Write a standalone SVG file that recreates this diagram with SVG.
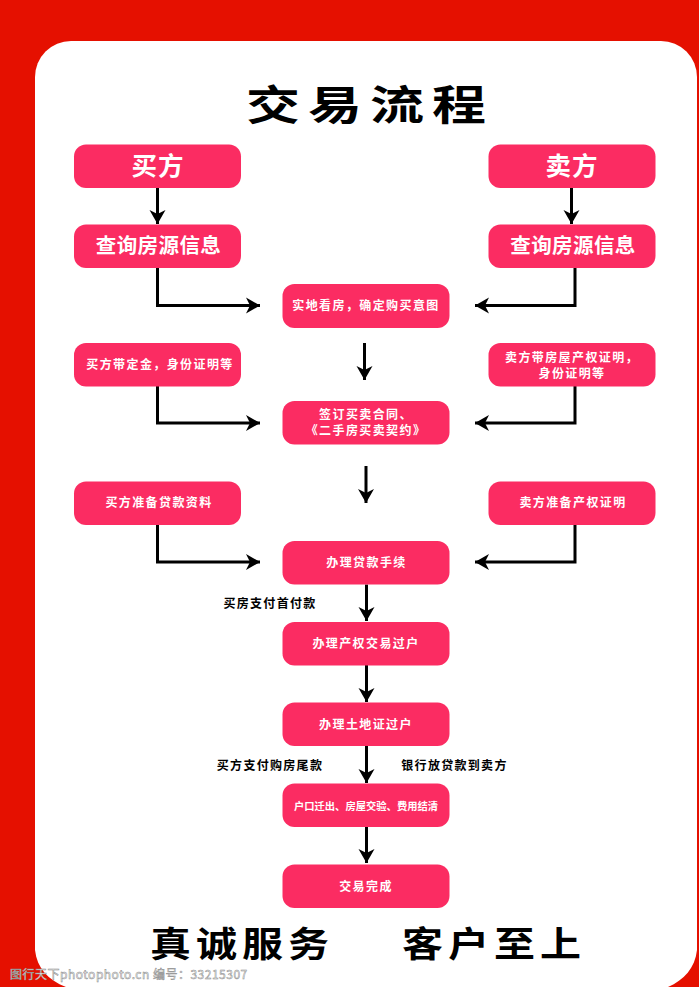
<svg xmlns="http://www.w3.org/2000/svg" width="699" height="987" viewBox="0 0 699 987">
<style>
text{font-family:"Noto Sans CJK SC","Noto Sans",sans-serif;font-weight:700;text-anchor:middle}
.n{fill:#fb2c62}
.w{fill:#fff}
.l{font-size:20.500px;letter-spacing:.4px}
.h{font-size:25.500px;letter-spacing:1px}
.s{font-size:12px;letter-spacing:1.4px}
.k{fill:#000;font-size:12px;letter-spacing:1.3px}
.t{fill:#000;font-size:41px;letter-spacing:5px}
.c{fill:none;stroke:#000;stroke-width:3;marker-end:url(#a)}
</style>
<defs>
<marker id="a" markerUnits="userSpaceOnUse" markerWidth="16" markerHeight="18" refX="14" refY="9" orient="auto">
<path d="M0 1L14 9L0 17L4 9Z" fill="#000"/>
</marker>
</defs>
<rect width="699" height="987" fill="#e51000"/>
<rect x="35" y="41" width="662" height="970" rx="36" fill="#fff"/>
<path d="M35 950C37 968 48 980 66 987H35Z" fill="#e51000"/>
<path d="M697 950C695 968 684 980 668 987H699V950Z" fill="#e51000"/>
<g id="title"><text transform="translate(370 120) scale(1 .76)" style="font-size:54px;letter-spacing:8px">交易流程</text></g>
<g id="connectors">
<path class="c" d="M157.5 188V224"/>
<path class="c" d="M571.5 188V224"/>
<path class="c" d="M157.5 268V305.500H260"/>
<path class="c" d="M575 268V305.500H475"/>
<path class="c" d="M364.500 343V380"/>
<path class="c" d="M157.500 386V423H260"/>
<path class="c" d="M575 386V423H475"/>
<path class="c" d="M366 466V503"/>
<path class="c" d="M157.500 525V562H260"/>
<path class="c" d="M575 525V562H475"/>
<path class="c" d="M366.500 584.500V621"/>
<path class="c" d="M366.500 665V702"/>
<path class="c" d="M366.500 746V783"/>
<path class="c" d="M366.500 827V863"/>
</g>
<g id="buyer"><rect class="n" x="74" y="144.500" width="167" height="43.500" rx="12"/><text class="w h" x="158" y="175">买方</text></g>
<g id="seller"><rect class="n" x="488.500" y="144.500" width="167" height="43.500" rx="12"/><text class="w h" x="572" y="175">卖方</text></g>
<g id="buyer-query"><rect class="n" x="74" y="224.500" width="167" height="43.500" rx="12"/><text class="w l" x="158.500" y="253">查询房源信息</text></g>
<g id="seller-query"><rect class="n" x="488.500" y="224.500" width="167" height="43.500" rx="12"/><text class="w l" x="573" y="253">查询房源信息</text></g>
<g id="viewing"><rect class="n" x="282.500" y="284" width="167" height="44" rx="12"/><text class="w s" x="366" y="310">实地看房，确定购买意图</text></g>
<g id="buyer-deposit"><rect class="n" x="74" y="343" width="167" height="43.500" rx="12"/><text class="w s" x="160" y="369">买方带定金，身份证明等</text></g>
<g id="seller-docs"><rect class="n" x="488.500" y="343" width="167" height="43.500" rx="12"/><text class="w s" x="572" y="362">卖方带房屋产权证明，</text><text class="w s" x="572" y="378">身份证明等</text></g>
<g id="contract"><rect class="n" x="282.500" y="401" width="167" height="43.500" rx="12"/><text class="w s" x="366" y="419">签订买卖合同、</text><text class="w s" x="366" y="435">《二手房买卖契约》</text></g>
<g id="buyer-loan"><rect class="n" x="74" y="481.500" width="167" height="43.500" rx="12"/><text class="w s" x="159" y="507">买方准备贷款资料</text></g>
<g id="seller-title"><rect class="n" x="488.500" y="481.500" width="167" height="43.500" rx="12"/><text class="w s" x="573" y="507">卖方准备产权证明</text></g>
<g id="loan"><rect class="n" x="282.500" y="541" width="167" height="43.500" rx="12"/><text class="w s" x="366.500" y="567">办理贷款手续</text></g>
<g id="transfer"><rect class="n" x="282.500" y="622" width="167" height="43.500" rx="12"/><text class="w s" x="366" y="648">办理产权交易过户</text></g>
<g id="land"><rect class="n" x="282.500" y="702.500" width="167" height="43.500" rx="12"/><text class="w s" x="366" y="729">办理土地证过户</text></g>
<g id="handover"><rect class="n" x="282.500" y="783.500" width="167" height="43.500" rx="12"/><text class="w" x="366" y="809.500" style="font-size:10.300px">户口迁出、房屋交验、费用结清</text></g>
<g id="done"><rect class="n" x="282.500" y="864.500" width="167" height="43.500" rx="12"/><text class="w s" x="366" y="891">交易完成</text></g>
<g id="labels">
<text class="k" x="270" y="608">买房支付首付款</text>
<text class="k" x="270" y="770">买方支付购房尾款</text>
<text class="k" x="454.500" y="770">银行放贷款到卖方</text>
</g>
<g id="slogan">
<text class="t" transform="translate(242 957) scale(1 .86)">真诚服务</text>
<text class="t" transform="translate(494 957) scale(1 .86)">客户至上</text>
</g>
<g id="watermark"><text x="10" y="978.500" style="text-anchor:start;font-size:12px;letter-spacing:.5px;font-weight:400;fill:#fff;stroke:#888;stroke-width:.5">图行天下photophoto.cn  编号：33215307</text></g>
</svg>
